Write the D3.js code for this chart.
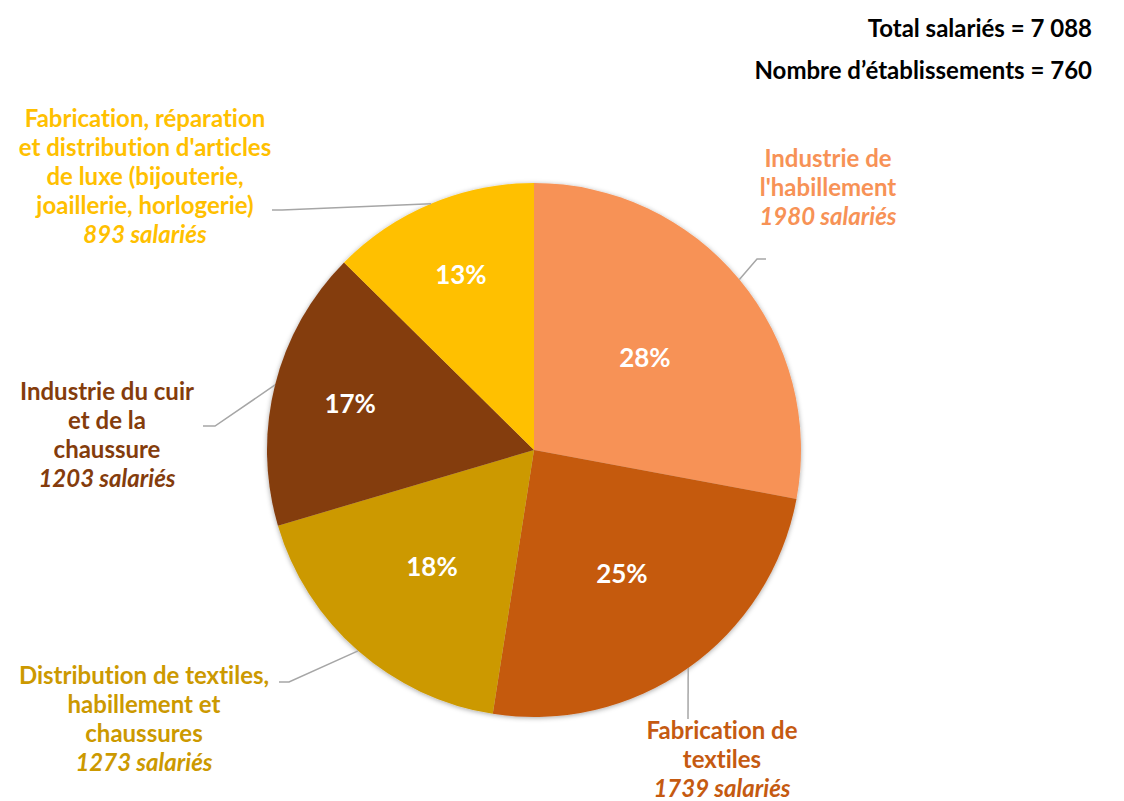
<!DOCTYPE html>
<html>
<head>
<meta charset="utf-8">
<script src="https://cdn.jsdelivr.net/npm/d3@7"></script>
<style>
  html, body { margin: 0; padding: 0; background: #fff; }
  svg { display: block; font-family: "Lato", "DejaVu Sans", sans-serif; font-weight: 700; font-variant-ligatures: none; }
</style>
</head>
<body>
<div id="chart"></div>
<script>
// data
const categories = [
  "Industrie de l'habillement",
  "Fabrication de textiles",
  "Distribution de textiles, habillement et chaussures",
  "Industrie du cuir et de la chaussure",
  "Fabrication, réparation et distribution d'articles de luxe (bijouterie, joaillerie, horlogerie)"
];
const salaries = [1980, 1739, 1273, 1203, 893];
const percentLabels = ["28%", "25%", "18%", "17%", "13%"];
const labelLines = [
  ["Industrie de", "l'habillement"],
  ["Fabrication de", "textiles"],
  ["Distribution de textiles,", "habillement et", "chaussures"],
  ["Industrie du cuir", "et de la", "chaussure"],
  ["Fabrication, réparation", "et distribution d'articles", "de luxe (bijouterie,", "joaillerie, horlogerie)"]
];
const colors = ["#F79256", "#C55A11", "#CC9900", "#843C0C", "#FFC000"];
const headerLines = ["Total salariés = 7 088", "Nombre d’établissements = 760"];

// layout
const width = 1124, height = 801;
const cx = 534, cy = 450, R = 267;
const lineH = 29;
const pctRadius = [0.54, 0.57, 0.58, 0.71, 0.71];
// label block: centre x, first baseline y
const labelPos = [[828, 167], [722, 739], [144, 684], [107, 400], [145, 127]];
// leader line elbow/end points (after the slice edge point)
const leaderPts = [
  [[757, 259], [766, 259]],
  [[688, 719]],
  [[289, 682], [279, 682]],
  [[215, 426], [203, 426]],
  [[282, 210], [272, 210]]
];

const svg = d3.select("#chart").append("svg")
  .attr("width", width).attr("height", height);

const defs = svg.append("defs");
const f = defs.append("filter").attr("id", "shadow")
  .attr("x", "-10%").attr("y", "-10%").attr("width", "120%").attr("height", "120%");
f.append("feDropShadow").attr("dx", 0).attr("dy", 1).attr("stdDeviation", 2.5)
  .attr("flood-color", "#000").attr("flood-opacity", 0.35);

const data = categories.map((c, i) => ({ name: c, value: salaries[i], i }));
const pie = d3.pie().value(d => d.value).sort(null);
const arcs = pie(data);
const arc = d3.arc().innerRadius(0).outerRadius(R);

const g = svg.append("g").attr("transform", `translate(${cx},${cy})`);
g.append("g").attr("filter", "url(#shadow)")
  .selectAll("path")
  .data(arcs)
  .enter().append("path")
  .attr("d", arc)
  .attr("fill", d => colors[d.data.i]);

g.selectAll("text.pct")
  .data(arcs)
  .enter().append("text")
  .attr("class", "pct")
  .attr("transform", d => {
    const r = R * pctRadius[d.data.i];
    return `translate(${d3.arc().innerRadius(r).outerRadius(r).centroid(d)})`;
  })
  .attr("text-anchor", "middle")
  .attr("dy", "0.35em")
  .style("font-size", "26px")
  .style("fill", "#fff")
  .text(d => percentLabels[d.data.i]);

// leader lines
const line = d3.line();
arcs.forEach(d => {
  const mid = (d.startAngle + d.endAngle) / 2;
  const start = [cx + R * Math.sin(mid), cy - R * Math.cos(mid)];
  svg.append("path")
    .attr("d", line([start, ...leaderPts[d.data.i]]))
    .attr("fill", "none")
    .attr("stroke", "#A6A6A6")
    .attr("stroke-width", 1.5);
});

// category labels
data.forEach(d => {
  const [x, y] = labelPos[d.i];
  const t = svg.append("text")
    .attr("text-anchor", "middle")
    .style("font-size", "24px")
    .style("fill", colors[d.i]);
  labelLines[d.i].forEach((s, k) => {
    t.append("tspan").attr("x", x).attr("y", y + k * lineH).text(s);
  });
  t.append("tspan").attr("x", x).attr("y", y + labelLines[d.i].length * lineH)
    .style("font-style", "italic")
    .text(`${d.value} salariés`);
});

// header
svg.selectAll("text.hdr")
  .data(headerLines)
  .enter().append("text")
  .attr("class", "hdr")
  .attr("x", 1092)
  .attr("y", (d, i) => 37 + i * 42)
  .attr("text-anchor", "end")
  .style("font-size", "24px")
  .style("fill", "#000")
  .text(d => d);
</script>
</body>
</html>
